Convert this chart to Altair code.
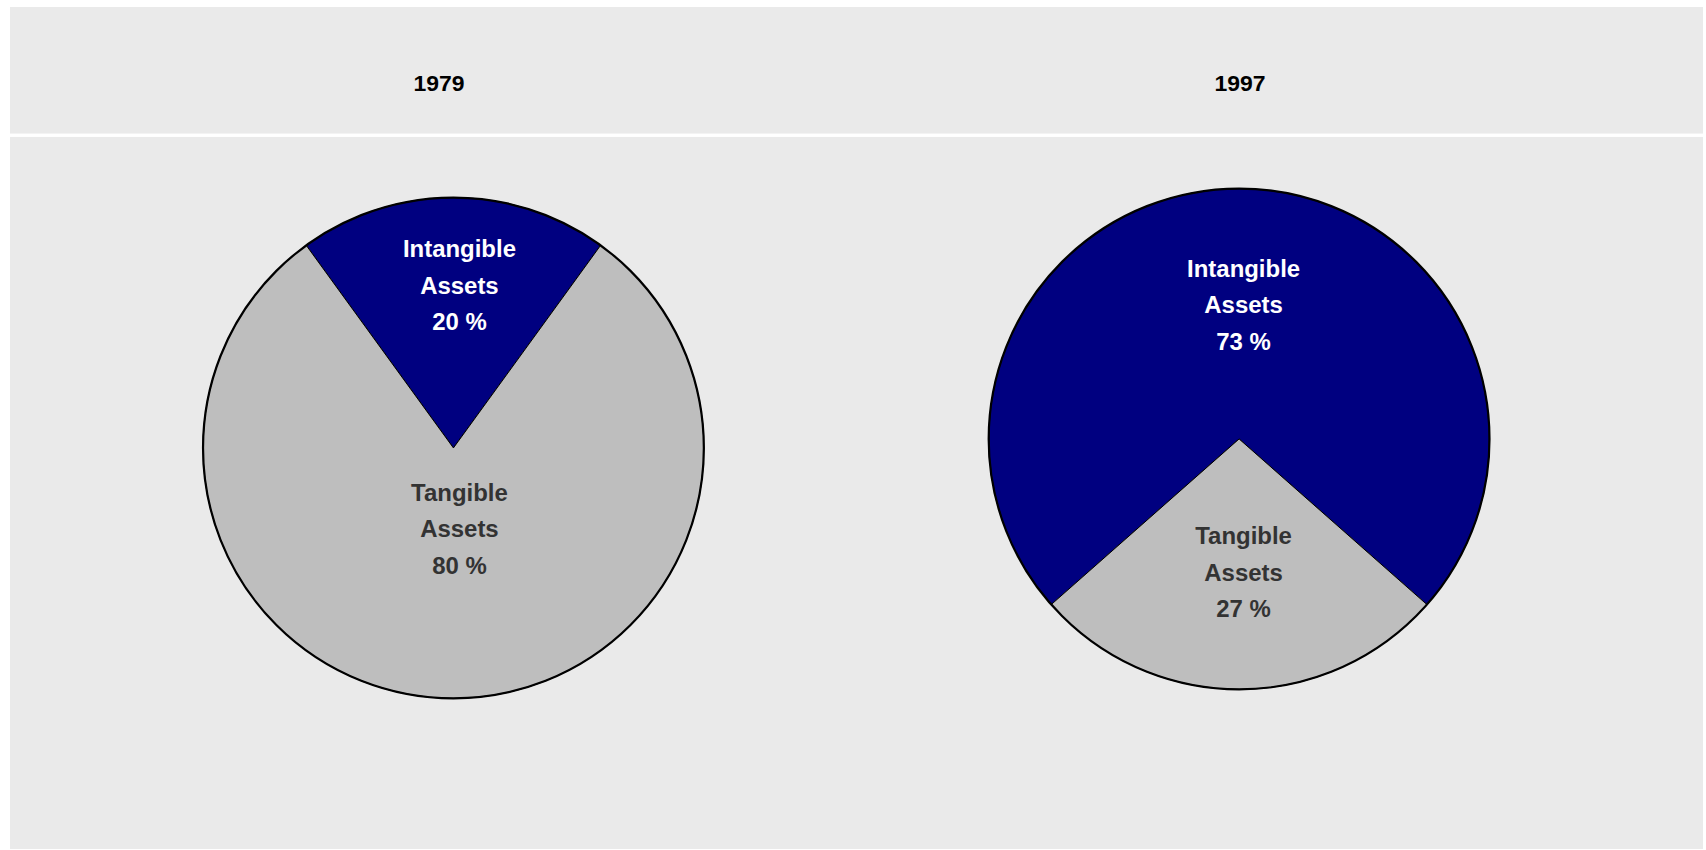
import math
import altair as alt
import pandas as pd

# ---- data ----
years = ["1979", "1997"]
assets = ["Intangible Assets", "Tangible Assets"]
intangible_pct = [20, 73]
tangible_pct = [80, 27]

# label layout (distance of each label block from its pie centre, px)
label_radius = {"1979": [161.5, 82.5], "1997": [133, 135]}

rows = []
for i, yr in enumerate(years):
    a = intangible_pct[i] / 100 * math.pi  # half-angle of the intangible slice
    vals = [intangible_pct[i], tangible_pct[i]]
    starts = [2 * math.pi - a, a]
    ends = [2 * math.pi + a, 2 * math.pi - a]
    mids = [0.0, math.pi]
    for j, asset in enumerate(assets):
        first, second = asset.split(" ")
        rows.append({
            "year": yr,
            "asset": asset,
            "value": vals[j],
            "start": starts[j],
            "end": ends[j],
            "mid": mids[j],
            "lr": label_radius[yr][j],
            "label": f"{first}\n{second}\n{vals[j]} %",
        })
df = pd.DataFrame(rows)
titles = pd.DataFrame({"year": years})

W, H = 1697, 844
FONT = "Liberation Sans"
R = 251
LH = 36.5


def pt(rng):
    return alt.Scale(type="point", domain=years, range=rng, padding=0)


y_scale = pt([442, 433])
x_pie = pt([444.5, 1232])

arcs = alt.Chart(df).mark_arc(radius=R, stroke="black", strokeWidth=1).encode(
    x=alt.X("year:N", scale=x_pie, axis=None),
    y=alt.Y("year:N", scale=y_scale, axis=None),
    theta=alt.Theta("start:Q", scale=None),
    theta2="end:Q",
    color=alt.Color("asset:N", scale=alt.Scale(domain=assets, range=["#000080", "#BEBEBE"]), legend=None),
)

outline = alt.Chart(titles).mark_arc(
    radius=R, theta=0, theta2=2 * math.pi, fillOpacity=0, stroke="black", strokeWidth=2.2
).encode(
    x=alt.X("year:N", scale=x_pie, axis=None),
    y=alt.Y("year:N", scale=y_scale, axis=None),
)

labels = alt.Chart(df).mark_text(
    font=FONT, fontSize=24, fontWeight="bold", lineBreak="\n", lineHeight=LH,
    align="center", baseline="middle", dy=-LH,
).encode(
    x=alt.X("year:N", scale=pt([450.5, 1236.5]), axis=None),
    y=alt.Y("year:N", scale=y_scale, axis=None),
    theta=alt.Theta("mid:Q", scale=None),
    radius=alt.Radius("lr:Q", scale=None),
    text="label:N",
    color=alt.Color("asset:N", scale=alt.Scale(domain=assets, range=["#FFFFFF", "#333333"]), legend=None),
)

strip_line = alt.Chart(titles).mark_rule(color="white", strokeWidth=3).encode(
    x=alt.value(0), x2=alt.value(W), y=alt.value(128.5)
)

title_text = alt.Chart(titles).mark_text(
    font=FONT, fontSize=23, fontWeight="bold", color="black", align="center", baseline="middle"
).encode(
    x=alt.X("year:N", scale=pt([430, 1233]), axis=None),
    y=alt.value(77),
    text="year:N",
)

chart = (
    alt.layer(strip_line, title_text, arcs, outline, labels)
    .resolve_scale(x="independent", color="independent")
    .properties(width=W, height=H, padding={"left": 8, "top": 6, "right": 1, "bottom": 0},
                background="white")
    .configure_view(fill="#EAEAEA", strokeWidth=0)
)

chart.save("out.html", embed_options={"renderer": "svg", "actions": False})
